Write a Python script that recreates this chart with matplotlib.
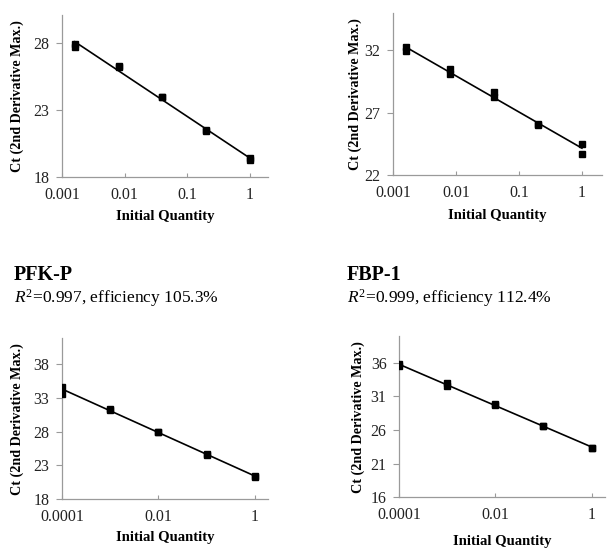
import numpy as np
import matplotlib
matplotlib.use("Agg")
import matplotlib.pyplot as plt
from matplotlib.ticker import FixedLocator, NullLocator

plt.rcParams['font.family'] = ['Liberation Serif', 'DejaVu Serif']
plt.rcParams['mathtext.fontset'] = 'custom'
plt.rcParams['mathtext.rm'] = 'Liberation Serif'
plt.rcParams['mathtext.it'] = 'Liberation Serif:italic'

# --- data ---
# top-left: 5-fold dilution series
p1_x = [0.0016, 0.0016, 0.008, 0.008, 0.04, 0.04, 0.2, 0.2, 1, 1]
p1_y = [27.9, 27.7, 26.25, 26.2, 24.0, 23.95, 21.5, 21.4, 19.4, 19.25]
p1_yticks = [18, 23, 28]
p1_ylim = (18, 30.1)

# top-right: 5-fold dilution series
p2_x = [0.0016, 0.0016, 0.008, 0.008, 0.04, 0.04, 0.2, 0.2, 1, 1]
p2_y = [32.3, 31.95, 30.5, 30.1, 28.65, 28.25, 26.1, 26.05, 24.5, 23.7]
p2_yticks = [22, 27, 32]
p2_ylim = (22, 35)

# PFK-P: 10-fold dilution series
p3_x = [1e-4, 1e-4, 1e-3, 1e-3, 1e-2, 1e-2, 1e-1, 1e-1, 1, 1]
p3_y = [34.7, 33.65, 31.4, 31.15, 28.0, 27.9, 24.65, 24.55, 21.4, 21.3]
p3_yticks = [18, 23, 28, 33, 38]
p3_ylim = (18, 41.9)

# FBP-1: 10-fold dilution series
p4_x = [1e-4, 1e-4, 1e-3, 1e-3, 1e-2, 1e-2, 1e-1, 1e-1, 1, 1]
p4_y = [35.8, 35.45, 32.95, 32.6, 29.85, 29.75, 26.65, 26.55, 23.4, 23.3]
p4_yticks = [16, 21, 26, 31, 36]
p4_ylim = (16, 40)

top_xticks = [0.001, 0.01, 0.1, 1]
top_xlabels = ['0.001', '0.01', '0.1', '1']
bot_xticks = [0.0001, 0.01, 1]
bot_xlabels = ['0.0001', '0.01', '1']

titles = [None, None, 'PFK-P', 'FBP-1']
subtitles = [None, None, '$R^{2}$=0.997, efficiency 105.3%', '$R^{2}$=0.999, efficiency 112.4%']

fig = plt.figure(figsize=(6.15, 5.53), dpi=100)

# axes rectangles in figure fractions
rects = [
    [0.1008, 0.680, 0.335, 0.293],
    [0.639, 0.6835, 0.340, 0.293],
    [0.1008, 0.0976, 0.335, 0.291],
    [0.6488, 0.1007, 0.335, 0.292],
]
# label positions in axes fractions (x for ylabel, y for xlabel)
ylab_x = [-0.218, -0.182, -0.218, -0.199]
xlab_y = [-0.247, -0.247, -0.242, -0.275]

panels = [
    (p1_x, p1_y, p1_yticks, p1_ylim, top_xticks, top_xlabels, (0.001, 10 ** 0.29)),
    (p2_x, p2_y, p2_yticks, p2_ylim, top_xticks, top_xlabels, (0.001, 10 ** 0.32)),
    (p3_x, p3_y, p3_yticks, p3_ylim, bot_xticks, bot_xlabels, (0.0001, 10 ** 0.27)),
    (p4_x, p4_y, p4_yticks, p4_ylim, bot_xticks, bot_xlabels, (0.0001, 10 ** 0.28)),
]

for i, (xs, ys, yt, yl, xt, xtl, xl) in enumerate(panels):
    ax = fig.add_axes(rects[i])
    xs = np.array(xs)
    ys = np.array(ys)

    # linear trendline in log space
    k, b = np.polyfit(np.log10(xs), ys, 1)
    lx = np.array([xs.min(), xs.max()])
    ax.plot(lx, k * np.log10(lx) + b, color='black', lw=1.2, zorder=2)
    ax.plot(xs, ys, 's', color='black', ms=4.8, zorder=3)

    ax.set_xscale('log')
    ax.set_xlim(*xl)
    ax.set_ylim(*yl)
    ax.xaxis.set_major_locator(FixedLocator(xt))
    ax.xaxis.set_minor_locator(NullLocator())
    ax.set_xticklabels(xtl)
    ax.set_yticks(yt)

    for s in ['top', 'right']:
        ax.spines[s].set_visible(False)
    for s in ['left', 'bottom']:
        ax.spines[s].set_color('#9a9a9a')
        ax.spines[s].set_linewidth(0.9)
    ax.tick_params(axis='y', direction='out', length=4, width=0.8, color='#9a9a9a',
                   labelsize=11.5, labelcolor='#222222', pad=5)
    ax.tick_params(axis='x', direction='in', length=3, width=0.8, color='#9a9a9a',
                   labelsize=11.5, labelcolor='#222222', pad=7)

    ax.set_xlabel('Initial Quantity', fontsize=10.5, fontweight='bold')
    ax.set_ylabel('Ct (2nd Derivative Max.)', fontsize=10.2, fontweight='bold')
    ax.xaxis.set_label_coords(0.5, xlab_y[i])
    ax.yaxis.set_label_coords(ylab_x[i], 0.5)
    ax.xaxis.label.set_va('center')
    ax.yaxis.label.set_va('center')

# panel headings for the bottom row
fig.text(14 / 615, 1 - 280 / 553, titles[2], fontsize=14.5, fontweight='bold', va='baseline')
fig.text(14 / 615, 1 - 303 / 553, subtitles[2], fontsize=12.5, va='baseline')
fig.text(347 / 615, 1 - 280 / 553, titles[3], fontsize=14.5, fontweight='bold', va='baseline')
fig.text(347 / 615, 1 - 303 / 553, subtitles[3], fontsize=12.5, va='baseline')

fig.savefig('out.png', dpi=100)
